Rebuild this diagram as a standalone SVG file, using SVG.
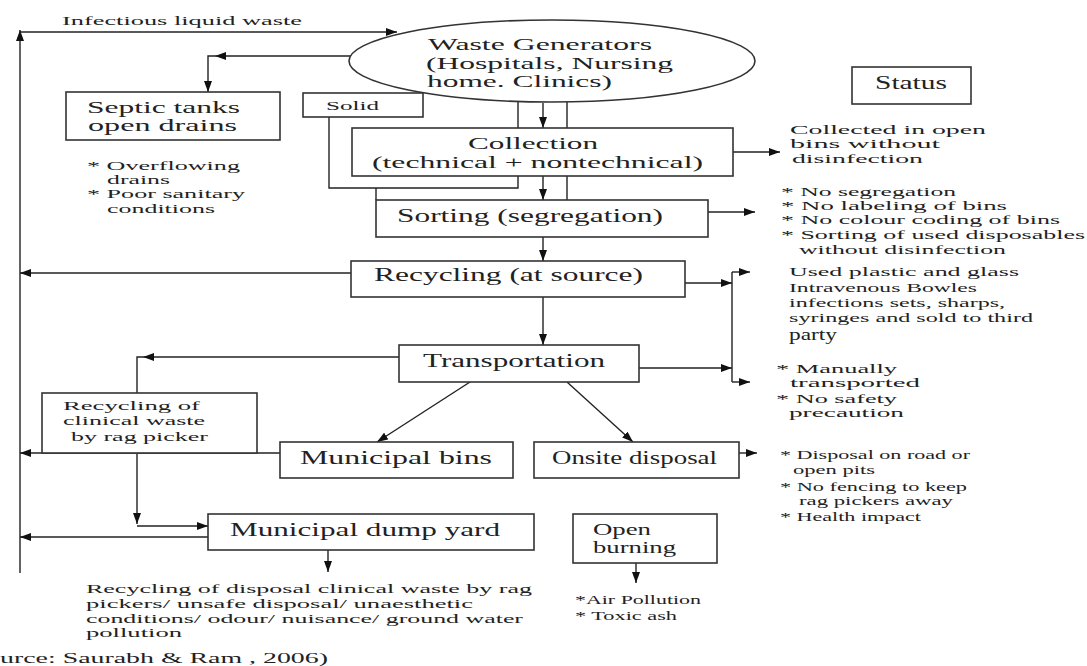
<svg xmlns="http://www.w3.org/2000/svg" width="1087" height="666" viewBox="0 0 1087 666">
<defs>
<marker id="a" viewBox="0 0 10 8" refX="10" refY="4" markerWidth="11" markerHeight="8" markerUnits="userSpaceOnUse" orient="auto" preserveAspectRatio="none"><path d="M0,0 L10,4 L0,8 z" fill="#111"/></marker>
<style>
.b{fill:#fff;stroke:#333;stroke-width:1.6}
.c{fill:none;stroke:#222;stroke-width:1.4}
.ca{fill:none;stroke:#222;stroke-width:1.4;marker-end:url(#a)}
text{fill:#222}
.t{font-size:19px}
.t2{font-size:16px}
.s{font-size:13px}
</style>
</defs>
<rect width="1087" height="666" fill="#fff"/>

<g id="connectors">
<path class="ca" d="M20,573 V30"/>
<path class="ca" d="M20,32 H397"/>
<path class="ca" d="M352,56 H215"/>
<path class="ca" d="M215,56 H208 V92"/>
<path class="c" d="M518,101 V128 M567,101 V128"/>
<path class="ca" d="M543,103 V128" stroke="#666"/>
<path class="c" d="M329,117 V188 H518 V176 M376,188 V200 M567,176 V200"/>
<path class="ca" d="M543,176 V200"/>
<path class="ca" d="M733,152 H780"/>
<path class="ca" d="M708,212 H755"/>
<path class="ca" d="M543,237 V261"/>
<path class="ca" d="M351,273 H20"/>
<path class="ca" d="M543,297 V345"/>
<path class="ca" d="M685,283 H732"/>
<path class="ca" d="M639,368 H732"/>
<path class="c" d="M732,272 V382" stroke-width="2"/>
<path class="ca" d="M732,272 H750"/>
<path class="ca" d="M732,382 H750"/>
<path class="ca" d="M399,357 H143"/>
<path class="c" d="M143,357 H137 V393"/>
<path class="ca" d="M470,382 L377,442"/>
<path class="ca" d="M567,382 L633,442"/>
<path class="ca" d="M280,453 H20"/>
<path class="ca" d="M137,454 V524"/>
<path class="ca" d="M137,526 H208"/>
<path class="ca" d="M208,537 H20"/>
<path class="ca" d="M739,453 H757"/>
<path class="ca" d="M328,550 V572"/>
<path class="ca" d="M636,563 V583"/>
</g>

<g font-family="Liberation Serif, Times New Roman, serif">
<g id="infectious-label"><text class="s" x="62" y="25" textLength="240" lengthAdjust="spacingAndGlyphs">Infectious liquid waste</text></g>

<g id="waste-generators">
<ellipse cx="552" cy="61" rx="203" ry="41" class="b"/>
<text class="t2" x="428" y="50" textLength="224" lengthAdjust="spacingAndGlyphs">Waste Generators</text>
<text class="t2" x="426" y="69" textLength="247" lengthAdjust="spacingAndGlyphs">(Hospitals, Nursing</text>
<text class="t2" x="427" y="87" textLength="185" lengthAdjust="spacingAndGlyphs">home. Clinics)</text>
</g>

<g id="septic">
<rect class="b" x="66" y="92" width="214" height="48"/>
<text class="t2" x="87" y="113" textLength="153" lengthAdjust="spacingAndGlyphs">Septic tanks</text>
<text class="t2" x="88" y="131" textLength="149" lengthAdjust="spacingAndGlyphs">open drains</text>
</g>
<g id="septic-notes">
<text class="s" x="87" y="170" textLength="153" lengthAdjust="spacingAndGlyphs">* Overflowing</text>
<text class="s" x="107" y="184" textLength="63" lengthAdjust="spacingAndGlyphs">drains</text>
<text class="s" x="87" y="198" textLength="158" lengthAdjust="spacingAndGlyphs">* Poor sanitary</text>
<text class="s" x="107" y="213" textLength="108" lengthAdjust="spacingAndGlyphs">conditions</text>
</g>

<g id="solid">
<rect class="b" x="303" y="93" width="120" height="24"/>
<text class="s" x="326" y="110" textLength="53" lengthAdjust="spacingAndGlyphs">Solid</text>
</g>

<g id="collection">
<rect class="b" x="352" y="128" width="381" height="48"/>
<text class="t2" x="468" y="149" textLength="130" lengthAdjust="spacingAndGlyphs">Collection</text>
<text class="t2" x="372" y="168" textLength="331" lengthAdjust="spacingAndGlyphs">(technical + nontechnical)</text>
</g>

<g id="sorting">
<rect class="b" x="376" y="200" width="332" height="37"/>
<text class="t" x="397" y="222" textLength="266" lengthAdjust="spacingAndGlyphs">Sorting (segregation)</text>
</g>

<g id="status">
<rect class="b" x="852" y="67" width="119" height="37"/>
<text x="875" y="89" font-size="18" textLength="72" lengthAdjust="spacingAndGlyphs">Status</text>
</g>

<g id="collection-status">
<text class="s" x="790" y="134" textLength="196" lengthAdjust="spacingAndGlyphs">Collected in open</text>
<text class="s" x="790" y="148" textLength="150" lengthAdjust="spacingAndGlyphs">bins without</text>
<text class="s" x="792" y="163" textLength="131" lengthAdjust="spacingAndGlyphs">disinfection</text>
</g>

<g id="sorting-status">
<text class="s" x="781" y="196" textLength="175" lengthAdjust="spacingAndGlyphs">* No segregation</text>
<text class="s" x="781" y="210" textLength="226" lengthAdjust="spacingAndGlyphs">* No labeling of bins</text>
<text class="s" x="781" y="224" textLength="279" lengthAdjust="spacingAndGlyphs">* No colour coding of bins</text>
<text class="s" x="781" y="239" textLength="304" lengthAdjust="spacingAndGlyphs">* Sorting of used disposables</text>
<text class="s" x="799" y="254" textLength="207" lengthAdjust="spacingAndGlyphs">without disinfection</text>
</g>

<g id="recycling">
<rect class="b" x="351" y="261" width="334" height="36"/>
<text class="t" x="374" y="281" textLength="269" lengthAdjust="spacingAndGlyphs">Recycling (at source)</text>
</g>

<g id="recycling-status">
<text class="s" x="789" y="276" textLength="230" lengthAdjust="spacingAndGlyphs">Used plastic and glass</text>
<text class="s" x="789" y="292" textLength="188" lengthAdjust="spacingAndGlyphs">Intravenous Bowles</text>
<text class="s" x="789" y="307" textLength="216" lengthAdjust="spacingAndGlyphs">infections sets, sharps,</text>
<text class="s" x="789" y="322" textLength="244" lengthAdjust="spacingAndGlyphs">syringes and sold to third</text>
<text x="789" y="340" font-size="16" textLength="48" lengthAdjust="spacingAndGlyphs">party</text>
</g>

<g id="transportation">
<rect class="b" x="399" y="345" width="240" height="37"/>
<text class="t" x="423" y="367" textLength="182" lengthAdjust="spacingAndGlyphs">Transportation</text>
</g>

<g id="transport-status">
<text class="s" x="776" y="373" textLength="121" lengthAdjust="spacingAndGlyphs">* Manually</text>
<text class="s" x="790" y="387" textLength="130" lengthAdjust="spacingAndGlyphs">transported</text>
<text class="s" x="776" y="403" textLength="121" lengthAdjust="spacingAndGlyphs">* No safety</text>
<text class="s" x="789" y="417" textLength="115" lengthAdjust="spacingAndGlyphs">precaution</text>
</g>

<g id="rag-picker">
<rect class="b" x="42" y="393" width="215" height="60"/>
<text class="s" x="63" y="410" textLength="137" lengthAdjust="spacingAndGlyphs">Recycling of</text>
<text class="s" x="63" y="425" textLength="142" lengthAdjust="spacingAndGlyphs">clinical waste</text>
<text class="s" x="71" y="441" textLength="137" lengthAdjust="spacingAndGlyphs">by rag picker</text>
</g>

<g id="municipal-bins">
<rect class="b" x="280" y="442" width="233" height="36"/>
<text class="t" x="300" y="464" textLength="192" lengthAdjust="spacingAndGlyphs">Municipal bins</text>
</g>

<g id="onsite-disposal">
<rect class="b" x="534" y="442" width="205" height="36"/>
<text class="t" x="552" y="464" textLength="165" lengthAdjust="spacingAndGlyphs">Onsite disposal</text>
</g>

<g id="onsite-status">
<text class="s" x="780" y="459" textLength="190" lengthAdjust="spacingAndGlyphs">* Disposal on road or</text>
<text class="s" x="793" y="474" textLength="82" lengthAdjust="spacingAndGlyphs">open pits</text>
<text class="s" x="780" y="491" textLength="187" lengthAdjust="spacingAndGlyphs">* No fencing to keep</text>
<text class="s" x="799" y="505" textLength="154" lengthAdjust="spacingAndGlyphs">rag pickers away</text>
<text class="s" x="780" y="521" textLength="141" lengthAdjust="spacingAndGlyphs">* Health impact</text>
</g>

<g id="dump-yard">
<rect class="b" x="208" y="514" width="326" height="36"/>
<text class="t" x="230" y="536" textLength="270" lengthAdjust="spacingAndGlyphs">Municipal dump yard</text>
</g>

<g id="dump-status">
<text class="s" x="86" y="593" textLength="446" lengthAdjust="spacingAndGlyphs">Recycling of disposal clinical waste by rag</text>
<text class="s" x="86" y="608" textLength="387" lengthAdjust="spacingAndGlyphs">pickers/ unsafe disposal/ unaesthetic</text>
<text class="s" x="86" y="623" textLength="437" lengthAdjust="spacingAndGlyphs">conditions/ odour/ nuisance/ ground water</text>
<text class="s" x="86" y="637" textLength="96" lengthAdjust="spacingAndGlyphs">pollution</text>
</g>

<g id="open-burning">
<rect class="b" x="573" y="514" width="144" height="49"/>
<text class="t2" x="593" y="535" textLength="58" lengthAdjust="spacingAndGlyphs">Open</text>
<text class="t2" x="593" y="553" textLength="83" lengthAdjust="spacingAndGlyphs">burning</text>
</g>

<g id="burning-status">
<text class="s" x="575" y="604" textLength="126" lengthAdjust="spacingAndGlyphs">*Air Pollution</text>
<text class="s" x="575" y="620" textLength="102" lengthAdjust="spacingAndGlyphs">* Toxic ash</text>
</g>

<g id="source"><text x="0" y="663" font-size="15" textLength="328" lengthAdjust="spacingAndGlyphs">urce: Saurabh  &amp; Ram , 2006)</text></g>
</g>
</svg>
